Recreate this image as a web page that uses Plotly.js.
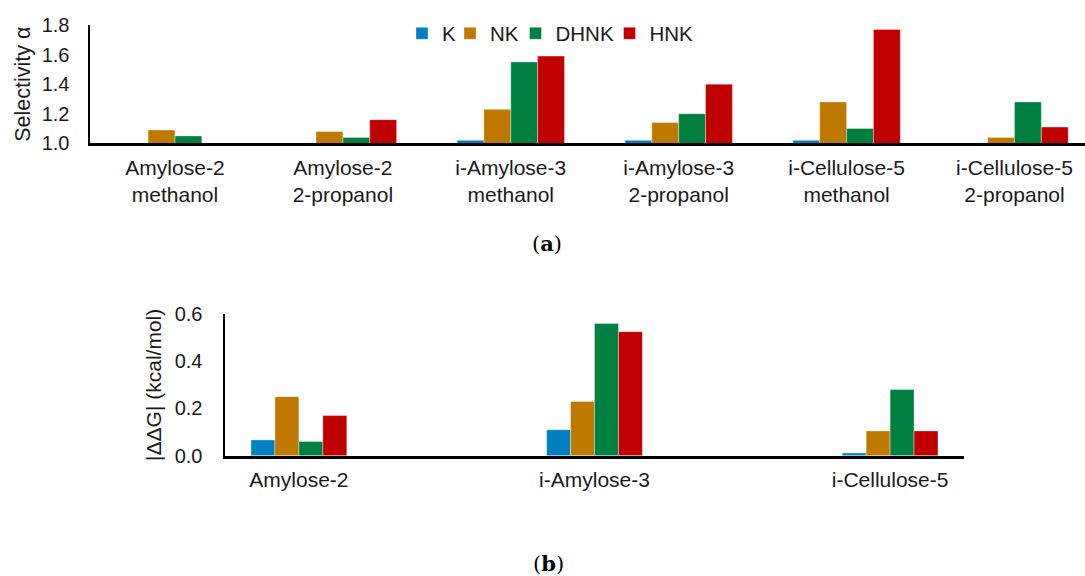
<!DOCTYPE html>
<html>
<head>
<meta charset="utf-8">
<script src="https://cdn.plot.ly/plotly-3.0.1.min.js"></script>
<style>html,body{margin:0;padding:0;background:#fff;}#chart{width:1085px;height:576px;}</style>
</head>
<body>
<div id="chart"></div>
<script>
// ---- data: panel (a) selectivity ----
var categoriesA = ["Amylose-2<br>methanol", "Amylose-2<br>2-propanol", "i-Amylose-3<br>methanol", "i-Amylose-3<br>2-propanol", "i-Cellulose-5<br>methanol", "i-Cellulose-5<br>2-propanol"];
var kA    = [1.00, 1.00, 1.02, 1.02, 1.02, 1.00];
var nkA   = [1.09, 1.08, 1.23, 1.14, 1.28, 1.04];
var dhnkA = [1.05, 1.04, 1.55, 1.20, 1.10, 1.28];
var hnkA  = [1.00, 1.16, 1.59, 1.40, 1.77, 1.11];

// ---- data: panel (b) |ΔΔG| ----
var categoriesB = ["Amylose-2", "i-Amylose-3", "i-Cellulose-5"];
var kB    = [0.067, 0.11, 0.011];
var nkB   = [0.25, 0.23, 0.105];
var dhnkB = [0.06, 0.56, 0.28];
var hnkB  = [0.17, 0.525, 0.105];

var seriesNames = ["K", "NK", "DHNK", "HNK"];
var yTicksA = [1.0, 1.2, 1.4, 1.6, 1.8];
var yTicksB = [0.0, 0.2, 0.4, 0.6];

var colors = ["#0080C0", "#BF7800", "#008040", "#C00000"];
var FONT = "Liberation Sans, Arial, sans-serif";
var TXT = "#1a1a1a";

var dataA = [kA, nkA, dhnkA, hnkA];
var dataB = [kB, nkB, dhnkB, hnkB];
var legendIds = ["legend", "legend2", "legend3", "legend4"];

var wA = 0.16, wB = 0.081;
var traces = [];
for (var i = 0; i < 4; i++) {
  traces.push({
    type: "bar", name: seriesNames[i], x: categoriesA, y: dataA[i],
    xaxis: "x", yaxis: "y",
    width: wA, offset: (i - 2) * wA,
    marker: {color: colors[i], line: {color: "rgba(255,255,255,0.45)", width: 0.8}},
    legend: legendIds[i], showlegend: true, hoverinfo: "x+y+name"
  });
}
for (var j = 0; j < 4; j++) {
  traces.push({
    type: "bar", name: seriesNames[j], x: categoriesB, y: dataB[j],
    xaxis: "x2", yaxis: "y2",
    width: wB, offset: (j - 2) * wB,
    marker: {color: colors[j], line: {color: "rgba(255,255,255,0.45)", width: 0.8}},
    showlegend: false, hoverinfo: "x+y+name"
  });
}

function legendAt(px) {
  return {x: px / 1085, xanchor: "left", y: 1 - 33.5 / 576, yanchor: "middle",
          orientation: "h", font: {family: FONT, size: 20.5, color: TXT},
          bgcolor: "rgba(0,0,0,0)", borderwidth: 0};
}

var layout = {
  width: 1085, height: 576,
  margin: {l: 0, r: 0, t: 0, b: 0},
  paper_bgcolor: "#fff", plot_bgcolor: "#fff",
  barmode: "overlay",
  font: {family: FONT, size: 20, color: TXT},
  legend: legendAt(402),
  legend2: legendAt(450),
  legend3: legendAt(515.5),
  legend4: legendAt(609.5),
  xaxis: {
    domain: [90 / 1085, 1], anchor: "y",
    type: "category", range: [-0.506, 5.42],
    showline: true, linecolor: "#000", linewidth: 3,
    showgrid: false, zeroline: false, ticks: "",
    tickfont: {family: FONT, size: 21, color: TXT},
    ticklabelstandoff: 3, automargin: false
  },
  yaxis: {
    domain: [1 - 143.3 / 576, 1 - 25 / 576], anchor: "x",
    range: [1.0, 1.8], tickvals: yTicksA, tickformat: ".1f",
    showline: true, linecolor: "#000", linewidth: 2.5,
    showgrid: false, zeroline: false, ticks: "",
    tickfont: {family: FONT, size: 20, color: TXT},
    ticklabelstandoff: 14, automargin: false,
    title: {text: "Selectivity α", font: {family: FONT, size: 21.5, color: TXT}, standoff: 5}
  },
  xaxis2: {
    domain: [225 / 1085, 964 / 1085], anchor: "y2",
    type: "category", range: [-0.25, 2.25],
    showline: true, linecolor: "#000", linewidth: 3,
    showgrid: false, zeroline: false, ticks: "",
    tickfont: {family: FONT, size: 21, color: TXT},
    ticklabelstandoff: 3, automargin: false
  },
  yaxis2: {
    domain: [1 - 455.7 / 576, 1 - 314 / 576], anchor: "x2",
    range: [0, 0.6], tickvals: yTicksB, tickformat: ".1f",
    showline: true, linecolor: "#000", linewidth: 2.5,
    showgrid: false, zeroline: false, ticks: "",
    tickfont: {family: FONT, size: 20, color: TXT},
    ticklabelstandoff: 16, automargin: false,
    title: {text: "|ΔΔG| (kcal/mol)", font: {family: FONT, size: 21, color: TXT}, standoff: 8}
  },
  annotations: [
    {text: "(<b>a</b>)", xref: "paper", yref: "paper", x: 547 / 1085, y: 1 - 243 / 576,
     xanchor: "center", yanchor: "middle", showarrow: false,
     font: {family: "DejaVu Serif, serif", size: 21, color: "#000"}},
    {text: "(<b>b</b>)", xref: "paper", yref: "paper", x: 548 / 1085, y: 1 - 563 / 576,
     xanchor: "center", yanchor: "middle", showarrow: false,
     font: {family: "DejaVu Serif, serif", size: 21, color: "#000"}}
  ]
};

Plotly.newPlot("chart", traces, layout, {displayModeBar: false, staticPlot: true});
</script>
</body>
</html>
